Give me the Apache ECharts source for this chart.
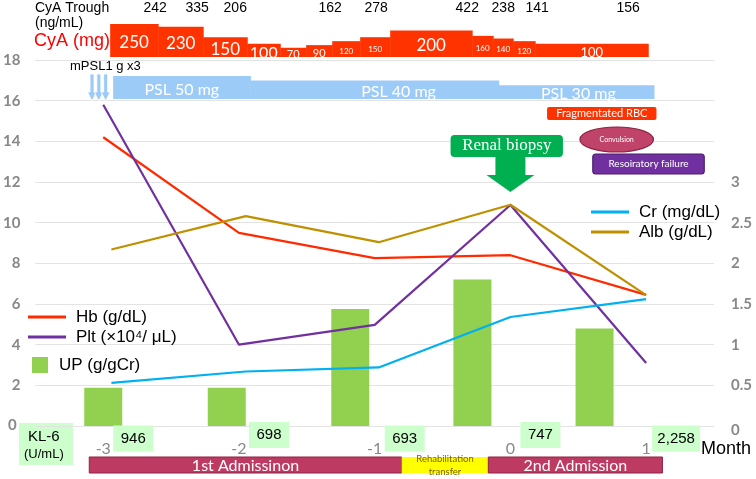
<!DOCTYPE html>
<html><head><meta charset="utf-8">
<script src="https://cdn.jsdelivr.net/npm/echarts@6/dist/echarts.min.js"></script>
<style>html,body{margin:0;padding:0;background:#fff}#c{width:756px;height:479px}</style>
</head><body><div id="c"></div>
<script>
// ---------- data ----------
const months = [-3, -2, -1, 0, 1];
const hb = [14.2, 9.5, 8.26, 8.4, 6.45];
const plt = [15.8, 4.0, 4.97, 10.87, 3.1];
const crAlbMonths = [-2.94, -1.95, -0.97, 0, 1];
const cr = [0.53, 0.67, 0.72, 1.34, 1.56];
const alb = [2.17, 2.58, 2.26, 2.72, 1.61];
const upMonths = [-3.0, -2.09, -1.18, -0.28, 0.62];
const up = [1.88, 1.88, 5.75, 7.2, 4.8];

const cyaStart = [-2.927, -2.575, -2.245, -1.922, -1.680, -1.490, -1.299, -1.094, -0.874, -0.273, -0.119, 0.028, 0.189];
const cyaEnd   = [-2.575, -2.245, -1.922, -1.680, -1.490, -1.299, -1.094, -0.874, -0.273, -0.119, 0.028, 0.189, 1.018];
const cyaDose  = [250, 230, 150, 100, 70, 90, 120, 150, 200, 160, 140, 120, 100];

const troughMonths = [-2.597, -2.289, -2.010, -1.314, -0.977, -0.309, -0.045, 0.204, 0.871];
const trough = [242, 335, 206, 162, 278, 422, 238, 141, 156];

const pslStart = [-2.905, -1.899, -0.078];
const pslEnd   = [-1.899, -0.078, 1.06];
const pslDose  = [50, 40, 30];
const mpslMonths = [-3.06, -3.01, -2.96];

const kl6 = [946, 698, 693, 747, 2258];

const eventNames = ['Fragmentated RBC', 'Convulsion', 'Resoiratory failure'];
const eventStart = [0.27, 0.512, 0.607];
const eventEnd   = [1.076, 1.054, 1.428];

const biopsyMonth = 0;
const biopsyBoxStart = -0.441, biopsyBoxEnd = 0.387;

const stayNames = ['1st Admissinon', 'Rehabilitation\ntransfer', '2nd Admission'];
const stayStart = [-3.103, -0.801, -0.163];
const stayEnd   = [-0.801, -0.163, 1.12];

// ---------- styles ----------
const SANS = "'Liberation Sans', Arial, sans-serif";
const CAL = "Lato, 'Open Sans', sans-serif";
const C = { hb:'#FF2A00', plt:'#7030A0', cr:'#00B0F0', alb:'#BF9000', up:'#92D050',
  cya:'#FF3300', psl:'#9DCBF7', adm:'#BD3A62', admB:'#8E2343', kl:'#CCFFCC', green:'#00B050' };
const cyaFont = [17, 17, 17, 16, 11, 11, 8, 8, 17, 8, 8, 8, 13];
const pslShift = [0, 24, 2];
const eventLook = [
  {top:47, h:13, fill:'#FF3300', stroke:null, r:2, font:11, ellipse:false},
  {top:67, h:25, fill:'#C0436A', stroke:'#8E2343', r:0, font:7, ellipse:true},
  {top:94, h:20, fill:'#7030A0', stroke:'#4A1E6C', r:3, font:10, ellipse:false}
];
const stayLook = [
  {fill:C.adm, stroke:C.admB, color:'#fff', font:16},
  {fill:'#FFFF00', stroke:null, color:'#7F6000', font:9.5},
  {fill:C.adm, stroke:C.admB, color:'#fff', font:16}
];
const axisGrey = '#888';

const chart = echarts.init(document.getElementById('c'));

const gridL = 32, gridR = 42;
const xBase = {type:'value', min:-3.5, max:1.5, interval:0.5};

function cyaItem(params, api){
  const s=api.value(0), e=api.value(1), d=api.value(2);
  const p0=api.coord([s,d]), p1=api.coord([e,0]);
  const i=params.dataIndex;
  return {type:'group', children:[
    {type:'rect', shape:{x:p0[0], y:p0[1], width:p1[0]-p0[0]+0.5, height:p1[1]-p0[1]}, style:{fill:C.cya}},
    {type:'text', style:{text:String(d), x:(p0[0]+p1[0])/2, y:(p0[1]+p1[1])/2+2, align:'center', verticalAlign:'middle',
      fill:'#fff', fontSize:cyaFont[i], fontFamily:CAL}}
  ]};
}
function troughItem(params, api){
  const p=api.coord([api.value(0),0]);
  return {type:'text', style:{text:String(api.value(1)), x:p[0], y:params.coordSys.y-16, align:'center', verticalAlign:'middle',
    fill:'#000', fontSize:14, fontFamily:SANS}};
}
function pslItem(params, api){
  const s=api.value(0), e=api.value(1), d=api.value(2);
  const p0=api.coord([s,d]), p1=api.coord([e,0]);
  const i=params.dataIndex;
  return {type:'group', children:[
    {type:'rect', shape:{x:p0[0], y:p0[1], width:p1[0]-p0[0]+0.5, height:p1[1]-p0[1]}, style:{fill:C.psl}},
    {type:'text', style:{text:'PSL '+d+' mg', x:(p0[0]+p1[0])/2+pslShift[i], y:(p0[1]+p1[1])/2+2, align:'center', verticalAlign:'middle',
      fill:'#fff', fontSize:16, fontFamily:CAL}}
  ]};
}
function mpslItem(params, api){
  const cx=api.coord([api.value(0),0])[0];
  const cs=params.coordSys;
  const yt=cs.y-2, yh=cs.y+cs.height-7, yb=cs.y+cs.height+2;
  return {type:'polygon', shape:{points:[[cx-2,yt],[cx+2,yt],[cx+2,yh],[cx+4.5,yh],[cx,yb],[cx-4.5,yh],[cx-2,yh]]},
    style:{fill:C.psl, stroke:'#fff', lineWidth:0.8}};
}
function eventItem(params, api){
  const i=params.dataIndex, L=eventLook[i], cs=params.coordSys;
  const x0=api.coord([api.value(0),0])[0], x1=api.coord([api.value(1),0])[0];
  const y0=cs.y+L.top;
  const shape = L.ellipse
    ? {type:'ellipse', shape:{cx:(x0+x1)/2, cy:y0+L.h/2, rx:(x1-x0)/2, ry:L.h/2}}
    : {type:'rect', shape:{x:x0, y:y0, width:x1-x0, height:L.h, r:L.r}};
  shape.style={fill:L.fill, stroke:L.stroke, lineWidth:L.stroke?1.2:0};
  return {type:'group', children:[shape,
    {type:'text', style:{text:eventNames[i], x:(x0+x1)/2, y:y0+L.h/2, align:'center', verticalAlign:'middle',
      fill:'#fff', fontSize:L.font, fontFamily:CAL}}]};
}
function biopsyItem(params, api){
  const cs=params.coordSys;
  const x0=api.coord([api.value(0),0])[0], x1=api.coord([api.value(1),0])[0], cx=api.coord([api.value(2),0])[0];
  const bt=cs.y+75, bb=bt+22, hs=bb+18, tip=hs+17;
  return {type:'group', children:[
    {type:'rect', shape:{x:x0, y:bt, width:x1-x0, height:22, r:4}, style:{fill:C.green}},
    {type:'text', style:{text:'Renal biopsy', x:(x0+x1)/2, y:bt+11, align:'center', verticalAlign:'middle', fill:'#fff',
      fontSize:17, fontFamily:"'Liberation Serif', 'DejaVu Serif', serif"}},
    {type:'polygon', shape:{points:[[cx-15,bb],[cx+15,bb],[cx+15,hs],[cx+24,hs],[cx,tip],[cx-24,hs],[cx-15,hs]]}, style:{fill:C.green}}
  ]};
}
function stayItem(params, api){
  const i=params.dataIndex, L=stayLook[i], cs=params.coordSys;
  const x0=api.coord([api.value(0),0])[0], x1=api.coord([api.value(1),0])[0];
  const y0=cs.y+cs.height+31, h=16;
  return {type:'group', children:[
    {type:'rect', shape:{x:x0, y:y0, width:x1-x0, height:h}, style:{fill:L.fill, stroke:L.stroke, lineWidth:L.stroke?1:0}},
    {type:'text', style:{text:stayNames[i], x:(x0+x1)/2, y:y0+h/2+0.5, align:'center', verticalAlign:'middle', fill:L.color,
      fontSize:L.font, fontFamily:CAL, lineHeight:L.font+3}}
  ]};
}
function klItem(params, api){
  const i=params.dataIndex, cs=params.coordSys;
  const cx=api.coord([api.value(0),0])[0]+30;
  const txt=api.value(1).toLocaleString('en-US');
  const w=28+4*txt.length, h=26;
  const cy=cs.y+cs.height+(i%2 ? 9 : 12.5);
  return {type:'group', children:[
    {type:'rect', shape:{x:cx-w/2, y:cy-h/2, width:w, height:h}, style:{fill:C.kl}},
    {type:'text', style:{text:txt, x:cx, y:cy, align:'center', verticalAlign:'middle', fill:'#000', fontSize:15, fontFamily:SANS}}
  ]};
}

const legendText = {fontSize:17, fontFamily:SANS, color:'#000', padding:[0,0,0,5]};
const zeroLabel = {text:'0', fontSize:15, fontWeight:'bold', fontFamily:CAL, fill:axisGrey};

const option = {
  animation:false,
  backgroundColor:'#fff',
  grid:[
    {left:gridL, right:gridR, top:60, bottom:53},
    {left:gridL, right:gridR, top:24, height:33},
    {left:gridL, right:gridR, top:76, height:23}
  ],
  xAxis:[
    Object.assign({gridIndex:0,
      axisLine:{show:false}, axisTick:{show:false}, splitLine:{show:false},
      axisLabel:{margin:15, color:axisGrey, fontSize:16, fontFamily:CAL,
        formatter:v=>Number.isInteger(v)?String(v):'', showMinLabel:true, showMaxLabel:true}}, xBase),
    Object.assign({gridIndex:1, show:false}, xBase),
    Object.assign({gridIndex:2, show:false}, xBase)
  ],
  yAxis:[
    {type:'value', gridIndex:0, min:0, max:18, interval:2, position:'left',
      axisLine:{show:false}, axisTick:{show:false},
      splitLine:{lineStyle:{color:'#E3E3E3', width:1}},
      axisLabel:{margin:15, color:axisGrey, fontSize:15, fontWeight:'bold', fontFamily:CAL,
        showMaxLabel:true, formatter:v=>v===0?'':String(v)}},
    {type:'value', gridIndex:0, min:0, max:4.5, interval:0.5, position:'right',
      axisLine:{show:false}, axisTick:{show:false}, splitLine:{show:false},
      axisLabel:{margin:17, color:axisGrey, fontSize:15, fontWeight:'bold', fontFamily:CAL,
        formatter:v=>(v===0||v>3.001)?'':String(v)}},
    {type:'value', gridIndex:1, min:0, max:250, show:false},
    {type:'value', gridIndex:2, min:0, max:50, show:false}
  ],
  legend:[
    {data:['Hb (g/dL)','Plt (×10⁴/ μL)'], orient:'vertical', left:28, top:308.5, padding:0, itemGap:3,
      itemWidth:38, itemHeight:3, icon:'rect', selectedMode:false, textStyle:legendText},
    {data:['UP (g/gCr)'], left:32, top:356.5, padding:0, itemWidth:16, itemHeight:16, icon:'rect',
      selectedMode:false, textStyle:Object.assign({}, legendText, {padding:[0,0,0,6]})},
    {data:['Cr (mg/dL)','Alb (g/dL)'], orient:'vertical', left:591, top:203.5, padding:0, itemGap:3,
      itemWidth:38, itemHeight:3, icon:'rect', selectedMode:false, textStyle:legendText}
  ],
  series:[
    {name:'UP (g/gCr)', type:'bar', xAxisIndex:0, yAxisIndex:0, barWidth:38,
      itemStyle:{color:C.up}, data:upMonths.map((m,i)=>[m, up[i]]), z:1},
    {name:'Hb (g/dL)', type:'line', xAxisIndex:0, yAxisIndex:0, symbol:'none', lineStyle:{width:2.2, color:C.hb},
      itemStyle:{color:C.hb}, data:months.map((m,i)=>[m, hb[i]]), z:3},
    {name:'Plt (×10⁴/ μL)', type:'line', xAxisIndex:0, yAxisIndex:0, symbol:'none', lineStyle:{width:2.2, color:C.plt},
      itemStyle:{color:C.plt}, data:months.map((m,i)=>[m, plt[i]]), z:3},
    {name:'Cr (mg/dL)', type:'line', xAxisIndex:0, yAxisIndex:1, symbol:'none', lineStyle:{width:2.2, color:C.cr},
      itemStyle:{color:C.cr}, data:crAlbMonths.map((m,i)=>[m, cr[i]]), z:3},
    {name:'Alb (g/dL)', type:'line', xAxisIndex:0, yAxisIndex:1, symbol:'none', lineStyle:{width:2.2, color:C.alb},
      itemStyle:{color:C.alb}, data:crAlbMonths.map((m,i)=>[m, alb[i]]), z:3},
    {type:'custom', xAxisIndex:1, yAxisIndex:2, renderItem:cyaItem, encode:{x:[0,1], y:2},
      data:cyaStart.map((s,i)=>[s, cyaEnd[i], cyaDose[i]]), silent:true},
    {type:'custom', xAxisIndex:1, yAxisIndex:2, renderItem:troughItem, encode:{x:0},
      data:troughMonths.map((m,i)=>[m, trough[i]]), silent:true},
    {type:'custom', xAxisIndex:2, yAxisIndex:3, renderItem:pslItem, encode:{x:[0,1], y:2},
      data:pslStart.map((s,i)=>[s, pslEnd[i], pslDose[i]]), silent:true},
    {type:'custom', xAxisIndex:2, yAxisIndex:3, renderItem:mpslItem, encode:{x:0},
      data:mpslMonths.map(m=>[m, 0]), silent:true, z:5},
    {type:'custom', xAxisIndex:0, yAxisIndex:0, renderItem:eventItem, encode:{x:[0,1]},
      data:eventStart.map((s,i)=>[s, eventEnd[i]]), silent:true, z:4},
    {type:'custom', xAxisIndex:0, yAxisIndex:0, renderItem:biopsyItem, encode:{x:[0,1,2]},
      data:[[biopsyBoxStart, biopsyBoxEnd, biopsyMonth]], silent:true, z:4},
    {type:'custom', xAxisIndex:0, yAxisIndex:0, renderItem:stayItem, encode:{x:[0,1]},
      data:stayStart.map((s,i)=>[s, stayEnd[i]]), silent:true, z:4},
    {type:'custom', xAxisIndex:0, yAxisIndex:0, renderItem:klItem, encode:{x:0},
      data:months.map((m,i)=>[m, kl6[i]]), silent:true, z:4}
  ],
  graphic:[
    {type:'text', left:35, top:1, style:{text:'CyA Trough', fontSize:14, fontFamily:SANS, fill:'#000'}},
    {type:'text', left:35, top:16, style:{text:'(ng/mL)', fontSize:14, fontFamily:SANS, fill:'#000'}},
    {type:'text', left:34, top:32, style:{text:'CyA (mg)', fontSize:18, fontFamily:SANS, fill:'#FF0000'}},
    {type:'text', left:70, top:60, style:{text:'mPSL1 g x3', fontSize:13, fontFamily:SANS, fill:'#000'}},
    {type:'text', left:8, top:418, style:zeroLabel},
    {type:'text', left:731, top:423, style:zeroLabel},
    {type:'rect', left:19, top:423, shape:{width:54, height:42}, style:{fill:C.kl}},
    {type:'text', left:28, top:429, style:{text:'KL-6', fontSize:15, fontFamily:SANS, fill:'#000'}},
    {type:'text', left:24, top:448, style:{text:'(U/mL)', fontSize:13, fontFamily:SANS, fill:'#000'}},
    {type:'text', left:701, top:440, style:{text:'Month', fontSize:18, fontFamily:SANS, fill:'#000'}}
  ]
};
chart.setOption(option);
</script></body></html>
